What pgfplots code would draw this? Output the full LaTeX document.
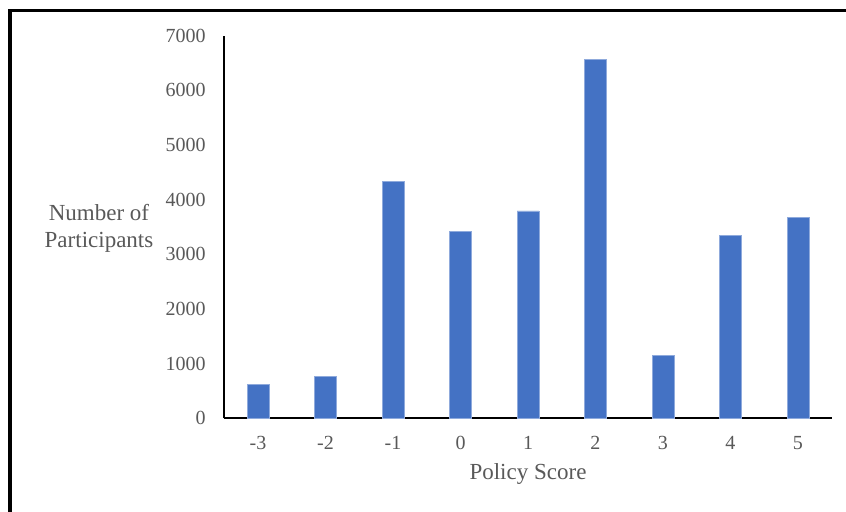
\documentclass[border=0pt]{standalone}
\usepackage{pgfplots}
\pgfplotsset{compat=1.18}
\usepackage{fontspec}
\setmainfont{Liberation Serif}
\definecolor{barblue}{HTML}{4472C4}
\definecolor{baredge}{HTML}{8FAADC}
\definecolor{txtgray}{HTML}{595959}

% Number of participants for each policy score
\pgfplotstableread{
score count
-3 620
-2 762
-1 4330
0 3425
1 3795
2 6570
3 1150
4 3340
5 3670
}\scoredata

\begin{document}
\begin{tikzpicture}[x=1bp,y=1bp]
\useasboundingbox (0,0) rectangle (846,512);
\fill[white] (0,0) rectangle (846,512);
% outer frame (left and top edges)
\draw[line width=3.3bp] (10,-10) -- (10,501.3) -- (870,501.3);
\begin{axis}[
  at={(224.3bp,93.7bp)}, anchor=south west,
  scale only axis, width=607.4bp, height=382.6bp,
  xmin=-3.5, xmax=5.5, ymin=0, ymax=7000,
  axis x line*=bottom, axis y line*=left,
  axis line style={line width=2bp, black, -},
  x axis line style={-}, y axis line style={-},
  major tick length=0pt,
  xtick={-3,...,5},
  xticklabels={-3,-2,-1,0,1,2,3,4,5},
  ytick={0,1000,...,7000},
  /pgf/number format/assume math mode=true,
  /pgf/number format/1000 sep={},
  tick label style={font=\fontsize{20bp}{24bp}\selectfont, text=txtgray},
  xticklabel style={anchor=base, yshift=-31.7bp},
  yticklabel style={anchor=east, inner xsep=0pt, xshift=-18.6bp},
  xlabel={Policy Score},
  xlabel style={at={(axis description cs:0.5,-0.161)}, anchor=base,
    font=\fontsize{23bp}{27.3bp}\selectfont, text=txtgray},
  every axis y label/.style={at={(axis description cs:-0.2063,0.497)},
    anchor=center, align=center,
    font=\fontsize{23bp}{27.3bp}\selectfont, text=txtgray},
  ylabel={Number of\\Participants},
  ybar, bar width=21.7bp,
  clip=false,
]
\addplot[fill=barblue, draw=baredge, line width=0.6bp] table[x=score, y=count] {\scoredata};
\end{axis}
\end{tikzpicture}
\end{document}
